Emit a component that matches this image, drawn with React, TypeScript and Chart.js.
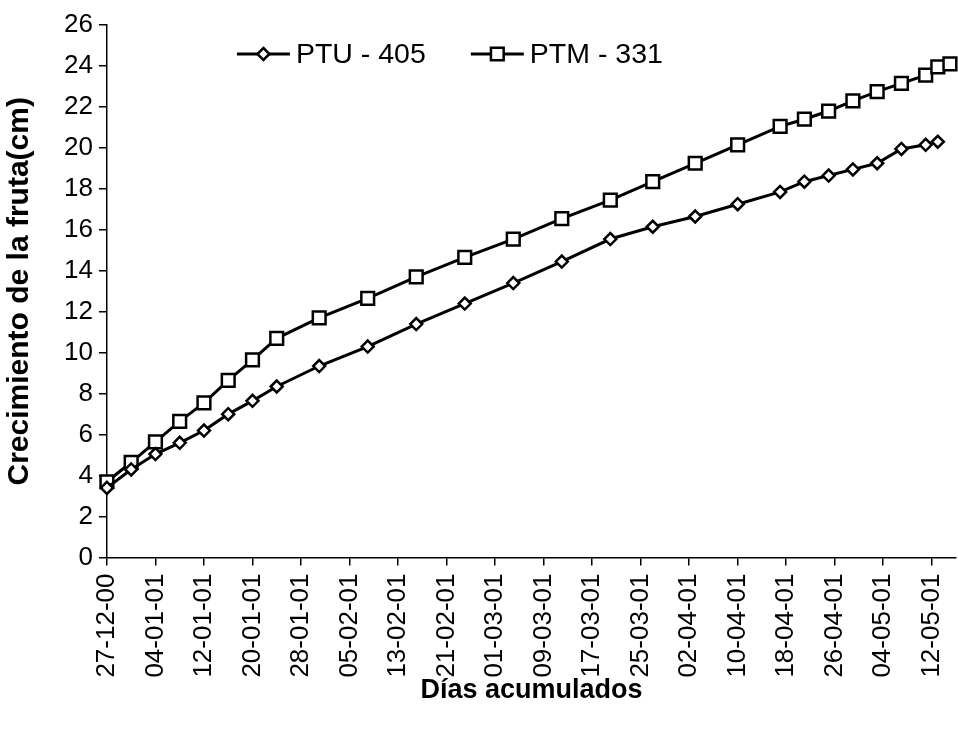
import React, { useEffect, useRef } from 'react';
import { Chart, registerables } from 'chart.js';

Chart.register(...registerables);

// ---- data ----
const xTickLabels = [
  '27-12-00', '04-01-01', '12-01-01', '20-01-01', '28-01-01', '05-02-01',
  '13-02-01', '21-02-01', '01-03-01', '09-03-01', '17-03-01', '25-03-01',
  '02-04-01', '10-04-01', '18-04-01', '26-04-01', '04-05-01', '12-05-01',
];
const tickStepDays = 8;
const xMaxDays = 140;
const yMax = 26;
const yTickStep = 2;

// days elapsed since 27-12-00
const sampleDays = [
  0, 4, 8, 12, 16, 20, 24, 28, 35, 43, 51, 59, 67, 75, 83, 90, 97, 104,
  111, 115, 119, 123, 127, 131, 135, 137, 139,
];
const ptu405 = [
  3.4, 4.3, 5.05, 5.6, 6.2, 7.0, 7.65, 8.35, 9.35, 10.3, 11.4, 12.4, 13.4,
  14.45, 15.55, 16.15, 16.65, 17.25, 17.85, 18.35, 18.65, 18.95, 19.25,
  19.95, 20.15, 20.3,
];
const ptm331 = [
  3.7, 4.65, 5.65, 6.65, 7.55, 8.65, 9.65, 10.7, 11.7, 12.65, 13.7, 14.65,
  15.55, 16.55, 17.45, 18.35, 19.25, 20.15, 21.05, 21.4, 21.8, 22.3, 22.75,
  23.15, 23.55, 23.95, 24.1,
];
const seriesNames = ['PTU - 405', 'PTM - 331'];

const FONT = "'Liberation Sans', Arial, sans-serif";

const toPoints = (vals: number[]) => vals.map((v, i) => ({ x: sampleDays[i], y: v }));

function drawMarker(ctx: CanvasRenderingContext2D, style: string, x: number, y: number, r: number) {
  ctx.beginPath();
  if (style === 'rectRot') {
    ctx.moveTo(x, y - r);
    ctx.lineTo(x + r, y);
    ctx.lineTo(x, y + r);
    ctx.lineTo(x - r, y);
    ctx.closePath();
  } else {
    const s = r * Math.SQRT1_2;
    ctx.rect(x - s, y - s, 2 * s, 2 * s);
  }
  ctx.fillStyle = '#fff';
  ctx.fill();
  ctx.lineWidth = 2.5;
  ctx.strokeStyle = '#000';
  ctx.stroke();
}

const inlineLegend = {
  id: 'inlineLegend',
  afterDraw(chart: any) {
    const ctx: CanvasRenderingContext2D = chart.ctx;
    const { left, top } = chart.chartArea;
    const y = top + 29;
    let x = left + 130;
    const lineLen = 53;
    ctx.save();
    ctx.font = `28.5px ${FONT}`;
    ctx.textBaseline = 'middle';
    chart.data.datasets.forEach((ds: any) => {
      ctx.beginPath();
      ctx.moveTo(x, y);
      ctx.lineTo(x + lineLen, y);
      ctx.lineWidth = 3;
      ctx.strokeStyle = '#000';
      ctx.stroke();
      drawMarker(ctx, ds.pointStyle, x + lineLen / 2, y, ds.pointRadius);
      x += lineLen + 6;
      ctx.fillStyle = '#000';
      ctx.fillText(ds.label, x, y + 1);
      x += ctx.measureText(ds.label).width + 45;
    });
    ctx.restore();
  },
};

const zeroEdgePadding = (scale: any) => {
  scale.paddingLeft = 0;
  scale.paddingRight = 0;
  scale.paddingTop = 0;
  scale.paddingBottom = 0;
};

export default function App() {
  const ref = useRef<HTMLCanvasElement>(null);

  useEffect(() => {
    if (!ref.current) return;
    const axisGrid = {
      drawOnChartArea: false,
      drawTicks: true,
      tickLength: 8,
      color: '#000',
      lineWidth: 1.5,
    };
    const axisBorder = { display: true, color: '#000', width: 1.5 };
    const chart = new Chart(ref.current, {
      type: 'line',
      data: {
        datasets: [
          {
            label: seriesNames[0],
            data: toPoints(ptu405),
            borderColor: '#000',
            borderWidth: 3,
            pointStyle: 'rectRot',
            pointRadius: 6,
            pointBackgroundColor: '#fff',
            pointBorderColor: '#000',
            pointBorderWidth: 2.5,
            tension: 0,
            clip: false as any,
          },
          {
            label: seriesNames[1],
            data: toPoints(ptm331),
            borderColor: '#000',
            borderWidth: 3,
            pointStyle: 'rect',
            pointRadius: 9,
            pointBackgroundColor: '#fff',
            pointBorderColor: '#000',
            pointBorderWidth: 2.5,
            tension: 0,
            clip: false as any,
          },
        ],
      },
      options: {
        animation: false,
        responsive: false,
        devicePixelRatio: 1,
        layout: { autoPadding: false, padding: { top: 25, right: 2, bottom: 22, left: 2 } },
        plugins: {
          legend: { display: false },
          tooltip: { enabled: false },
        },
        scales: {
          x: {
            type: 'linear',
            min: 0,
            max: xMaxDays,
            grid: axisGrid,
            border: axisBorder,
            afterFit: zeroEdgePadding,
            ticks: {
              stepSize: tickStepDays,
              includeBounds: false,
              autoSkip: false,
              maxRotation: 90,
              minRotation: 90,
              padding: 8,
              color: '#000',
              font: { family: FONT, size: 26 },
              callback: (v: any) => xTickLabels[Math.round(Number(v) / tickStepDays)] ?? '',
            },
            title: {
              display: true,
              text: 'Días acumulados',
              color: '#000',
              font: { family: FONT, size: 27, weight: 'bold' },
              padding: { top: -11, bottom: 0 },
            },
          },
          y: {
            min: 0,
            max: yMax,
            grid: axisGrid,
            border: axisBorder,
            afterFit: zeroEdgePadding,
            ticks: {
              stepSize: yTickStep,
              padding: 6,
              color: '#000',
              font: { family: FONT, size: 26 },
            },
            title: {
              display: true,
              text: 'Crecimiento de la fruta(cm)',
              color: '#000',
              font: { family: FONT, size: 30, weight: 'bold' },
              padding: { top: 0, bottom: 20 },
            },
          },
        },
      } as any,
      plugins: [inlineLegend],
    });
    return () => chart.destroy();
  }, []);

  return (
    <div style={{ position: 'absolute', left: 0, top: 0, width: 958, height: 729, background: '#fff' }}>
      <canvas ref={ref} width={958} height={729} style={{ display: 'block' }} />
    </div>
  );
}
